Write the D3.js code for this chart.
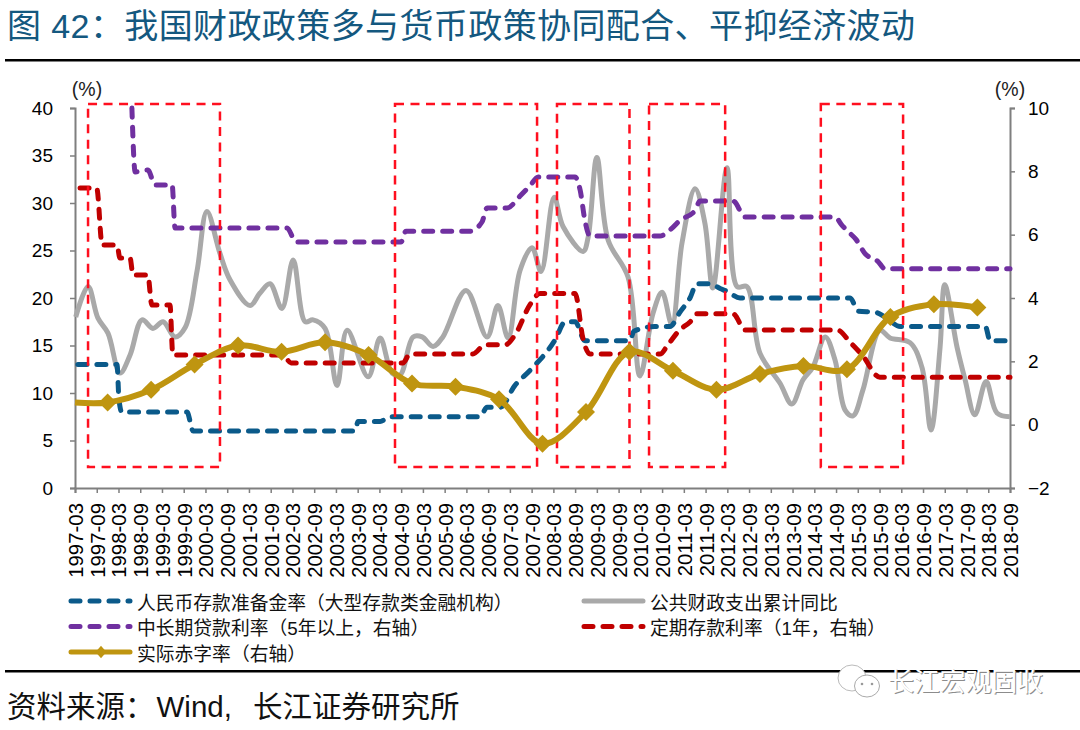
<!DOCTYPE html>
<html><head><meta charset="utf-8">
<script src="https://cdn.jsdelivr.net/npm/d3@7/dist/d3.min.js"></script>
<style>html,body{margin:0;background:#fff}svg{display:block}text{font-family:"Liberation Sans","Noto Sans CJK SC",sans-serif}</style>
</head><body><svg id="c" width="1080" height="730"></svg>
<script>
// month offset = months since 1997-03
const tickLabels = [];
for (let y = 1997; y <= 2018; y++) { tickLabels.push(y + "-03", y + "-09"); }
const leftTicks = [0,5,10,15,20,25,30,35,40];
const rightTicks = [-2,0,2,4,6,8,10];

const blueMonths = [0.8,11.6,12.1,12.9,30.9,32.6,77.3,78.1,84.2,86.9,111.8,113.7,117.3,121.4,125.6,132.5,135.3,138,140.7,153.1,154.2,160,164.2,166.9,169.7,171.6,175.2,178,179.9,183.5,213.9,216.1,220.8,223.5,227.7,251.2,252.5,256.7,258];
const blueValues = [13,13,9.5,8,8,6,6,7,7,7.5,7.5,8.5,8.5,10.8,12.4,15.6,17.5,17.5,15.5,15.5,16.5,17,17,18.5,20,21.5,21.5,21,20.7,20,20,18.6,18.5,18,17,17,15.5,15.5,14.7];

const greyMonths = [0.2,3.6,6.3,9.1,12.4,15.2,18.5,21.5,24.3,27.6,30.4,33.7,36.4,40,42.8,48.3,51,53.8,57.1,60.2,63.5,65.7,69,72.3,75.1,80.9,84.2,87.5,89.7,93.3,95.8,98.8,101.5,107.9,113.7,116.7,119.5,122.8,126.1,128.6,132.2,134.7,140.2,141.6,144,147.1,152.6,155.9,159.5,162,164.7,167.5,171.1,173.8,176,179.9,182.7,185.4,189,194.5,197.8,200.9,203.6,207,209.7,212.5,214.7,217.4,222.1,224.9,230.4,233.7,236.2,238.7,240,243.4,245.6,248.3,251.4,254.4,258];
const greyValues = [18,21.2,17.9,16.3,12.1,14,17.7,16.8,17.5,15.9,16.9,22.9,29.1,24.7,21.9,19.2,20.5,21.5,18.9,24,17.5,17.7,16.8,10.8,16.6,11.7,15.8,12.1,11.9,15.9,15.9,14.9,15.9,20.8,15.9,19.2,15.8,22.9,25.3,22.8,30.6,27.5,24.9,26.4,34.8,26.1,22.2,11.8,18.4,20.6,17.2,25.8,31.5,27.9,21.05,33.7,21.2,21.2,14.2,11.05,8.85,11.4,12.7,15.9,13.5,8.2,7.6,10.3,16.6,15.8,15.3,12.7,6.1,14.8,21.4,14.8,11.4,7.7,11.2,7.9,7.5];

const purpleMonths = [15.7,16.6,20.1,22.1,26.8,27.6,58.5,61,90,91.3,109,112.3,113.7,119.2,122.8,125.6,127.8,138,139.4,140.7,142.1,161.4,164.2,166.9,171,172.5,181.6,184.9,209.7,211.6,213.3,215.5,218,221.6,223.5,258];
const purpleValues = [10,7.98,8.04,7.57,7.57,6.21,6.21,5.77,5.77,6.11,6.11,6.4,6.84,6.84,7.22,7.55,7.82,7.82,7.4,6.45,5.96,5.96,6.15,6.45,6.75,7.06,7.06,6.56,6.56,6.3,6.1,5.85,5.4,5.15,4.92,4.92];

const redMonths = [1.4,6,7.5,11.6,12.4,15.2,16,20.1,21.2,26.2,27,57.4,59.6,90.5,92.4,109.8,113.1,118.7,121.4,125.6,128.3,138,140.2,142.1,161.4,163.6,166.9,169.7,171.6,181.6,184.9,210.3,213.9,217.2,222.1,258];
const redValues = [7.47,7.47,5.67,5.67,5.26,5.26,4.73,4.73,3.78,3.78,2.2,2.2,1.95,1.95,2.23,2.23,2.52,2.52,2.83,3.8,4.14,4.14,2.7,2.23,2.23,2.52,3,3.24,3.5,3.5,2.99,2.99,2.6,2.2,1.5,1.5];

const deficitMonths = [0,9,21,33,45,57,69,81,93,105,117,129,141,153,165,177,189,201,213,225,237,249];
const deficitValues = [0.7,0.7,1.1,1.9,2.5,2.3,2.6,2.2,1.3,1.2,0.8,-0.6,0.4,2.3,1.7,1.1,1.6,1.85,1.75,3.4,3.8,3.7];
const deficitMarkerMonths = deficitMonths.slice(1);
const deficitMarkerValues = deficitValues.slice(1);

const boxStart = [3.6,88.3,133,158.4,205.8];
const boxEnd = [40,127.5,153,179.4,228.5];
const boxTop = 10.13, boxBottom = -1.34;

const legendNames = ["人民币存款准备金率（大型存款类金融机构）","公共财政支出累计同比","中长期贷款利率（5年以上，右轴）","定期存款利率（1年，右轴）","实际赤字率（右轴）"];
const titleText = "图 42：我国财政政策多与货币政策协同配合、平抑经济波动";
const sourceParts = ["资料来源：","Wind,","长江证券研究所"];
const markText = "长江宏观固收";

const BLUE="#0b5a8a", GREY="#a9a9a9", PURPLE="#7030a0", RED="#c00000", GOLD="#bf9510", BOX="#ff0f1f", AXIS="#7f7f7f";
const DASH="9 10";
const svg = d3.select("#c");
const L=75,R=1010,T=108,B=488;
const x = d3.scaleLinear().domain([0,258]).range([L,R]);
const yL = d3.scaleLinear().domain([0,40]).range([B,T]);
const yR = d3.scaleLinear().domain([-2,10]).range([B,T]);

// Title & rules
svg.append("text").attr("x",7).attr("y",38).attr("font-size",34).attr("fill","#14587f").attr("textLength",908).attr("lengthAdjust","spacing").text(titleText);
svg.append("rect").attr("x",5).attr("y",59).attr("width",1075).attr("height",2.5).attr("fill","#000");
svg.append("rect").attr("x",5).attr("y",670).attr("width",1075).attr("height",2.5).attr("fill","#000");

// Axes
const axL = svg.append("g").attr("transform",`translate(${L},0)`).call(d3.axisLeft(yL).tickValues(leftTicks).tickSize(5).tickPadding(17));
const axR = svg.append("g").attr("transform",`translate(${R},0)`).call(d3.axisRight(yR).tickValues(rightTicks).tickSize(5).tickPadding(13));
const axB = svg.append("g").attr("transform",`translate(0,${B})`).call(d3.axisBottom(x).tickValues(tickLabels.map((d,i)=>i*6)).tickFormat((d,i)=>tickLabels[i]).tickSize(5));
[axL,axR,axB].forEach(g=>{
  g.selectAll("path").attr("stroke",AXIS).attr("stroke-width",2);
  g.selectAll("line").attr("stroke",AXIS).attr("stroke-width",1.5);
  g.selectAll("text").attr("fill","#000").attr("font-size",19).style("font-family",'"Liberation Sans"');
});
axB.selectAll("text").attr("font-size",20.4).attr("text-anchor","end").attr("dy",0)
   .attr("transform","translate(7.5,15) rotate(-90)").attr("x",0).attr("y",0);
svg.append("text").attr("x",87).attr("y",96).attr("text-anchor","middle").attr("font-size",19.5).attr("fill","#222").text("(%)");
svg.append("text").attr("x",1010).attr("y",96).attr("text-anchor","middle").attr("font-size",19.5).attr("fill","#222").text("(%)");

const pts=(xs,ys)=>xs.map((m,i)=>[m,ys[i]]);
const lineFn=(yS,curve)=>d3.line().x(d=>x(d[0])).y(d=>yS(d[1])).curve(curve);

// Series
svg.append("path").attr("d",lineFn(yL,d3.curveCatmullRom.alpha(0.5))(pts(greyMonths,greyValues))).attr("fill","none").attr("stroke",GREY).attr("stroke-width",5);
const dashed=(d,yS,c)=>svg.append("path").attr("d",lineFn(yS,d3.curveMonotoneX)(d)).attr("fill","none").attr("stroke",c).attr("stroke-width",5).attr("stroke-linecap","round").attr("stroke-dasharray",DASH);
dashed(pts(blueMonths,blueValues),yL,BLUE);
dashed(pts(purpleMonths,purpleValues),yR,PURPLE);
dashed(pts(redMonths,redValues),yR,RED);

// Boxes
boxStart.forEach((s,i)=>{
  svg.append("rect").attr("x",x(s)).attr("y",yR(boxTop)).attr("width",x(boxEnd[i])-x(s)).attr("height",yR(boxBottom)-yR(boxTop))
   .attr("fill","none").attr("stroke",BOX).attr("stroke-width",2.5).attr("stroke-dasharray","9 6.5");
});

// Deficit
svg.append("path").attr("d",lineFn(yR,d3.curveCatmullRom.alpha(0.5))(pts(deficitMonths,deficitValues))).attr("fill","none").attr("stroke",GOLD).attr("stroke-width",6);
const dia=d3.symbol().type(d3.symbolDiamond).size(94);
svg.append("g").selectAll("path").data(pts(deficitMarkerMonths,deficitMarkerValues)).join("path")
 .attr("d",dia).attr("transform",d=>`translate(${x(d[0])},${yR(d[1])}) scale(1.73,1)`).attr("fill",GOLD);

// Legend
const legend=[
 {n:0,c:BLUE,t:"dash",col:0,row:0},{n:1,c:GREY,t:"solid",col:1,row:0},
 {n:2,c:PURPLE,t:"dash",col:0,row:1},{n:3,c:RED,t:"dash",col:1,row:1},
 {n:4,c:GOLD,t:"dia",col:0,row:2}];
const colX=d3.scaleOrdinal().domain([0,1]).range([71,584]);
const rowY=d3.scaleLinear().domain([0,2]).range([601,652]);
legend.forEach(l=>{
  const x0=colX(l.col),y0=rowY(l.row);
  const ln=svg.append("line").attr("x1",x0).attr("x2",x0+59).attr("y1",y0).attr("y2",y0).attr("stroke",l.c).attr("stroke-width",5).attr("stroke-linecap","round");
  if(l.t==="dash") ln.attr("stroke-dasharray",DASH);
  if(l.t==="dia") svg.append("path").attr("d",d3.symbol().type(d3.symbolDiamond).size(45)).attr("transform",`translate(${x0+30},${y0}) scale(1.5,1)`).attr("fill",l.c);
  svg.append("text").attr("x",x0+66).attr("y",y0+8.5).attr("font-size",18.8).attr("fill","#111").text(legendNames[l.n]);
});

// Source
const src=svg.append("text").attr("x",7).attr("y",717).attr("font-size",29.5).attr("fill","#111");
src.append("tspan").text(sourceParts[0]);
src.append("tspan").attr("dx",2).text(sourceParts[1]);
src.append("tspan").attr("dx",21).text(sourceParts[2]);

// Watermark
const wm=svg.append("g");
wm.append("ellipse").attr("cx",852).attr("cy",678).attr("rx",14).attr("ry",13).attr("fill","#fff").attr("stroke","#bbb").attr("stroke-width",1);
wm.append("ellipse").attr("cx",867).attr("cy",686).attr("rx",12.5).attr("ry",11).attr("fill","#fff").attr("stroke","#aaa").attr("stroke-width",1);
wm.append("circle").attr("cx",862).attr("cy",684).attr("r",1.3).attr("fill","#999");
wm.append("circle").attr("cx",872).attr("cy",684).attr("r",1.3).attr("fill","#999");
wm.append("text").attr("x",889).attr("y",692).attr("font-size",26).attr("fill","#8c8c8c").attr("textLength",155).text(markText);
wm.append("text").attr("x",888).attr("y",691).attr("font-size",26).attr("fill","#fff").attr("textLength",155).text(markText);
</script></body></html>
